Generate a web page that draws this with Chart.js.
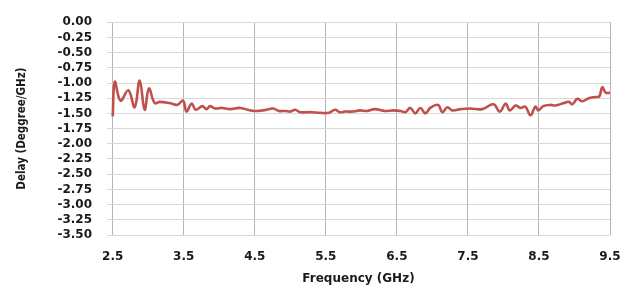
<!DOCTYPE html>
<html>
<head>
<meta charset="utf-8">
<script src="https://cdn.jsdelivr.net/npm/chart.js@4.4.0/dist/chart.umd.min.js"></script>
<style>
  html, body { margin: 0; padding: 0; background: #ffffff; }
  #wrap { width: 622px; height: 286px; }
</style>
</head>
<body>
<div id="wrap"><canvas id="chart" width="622" height="286"></canvas></div>
<script>
// values
const freq = [2.5, 2.53, 2.61, 2.72, 2.81, 2.88, 2.95, 3.01, 3.09, 3.16, 3.3, 3.41, 3.49, 3.54, 3.61, 3.67,
  3.76, 3.82, 3.87, 3.94, 4.04, 4.15, 4.29, 4.4, 4.5, 4.62, 4.76, 4.84, 4.93, 5.0, 5.07, 5.14, 5.3,
  5.42, 5.54, 5.63, 5.7, 5.77, 5.88, 5.98, 6.08, 6.19, 6.33, 6.45, 6.55, 6.62, 6.69, 6.76, 6.83, 6.9,
  6.97, 7.08, 7.14, 7.21, 7.28, 7.4, 7.53, 7.7, 7.86, 7.95, 8.03, 8.09, 8.17, 8.24, 8.31, 8.38, 8.45,
  8.49, 8.56, 8.66, 8.73, 8.85, 8.92, 8.97, 9.04, 9.11, 9.2, 9.29, 9.35, 9.39, 9.44, 9.5];
const delay = [-1.55, -0.98, -1.29, -1.12, -1.4, -0.96, -1.44, -1.09, -1.33, -1.31, -1.33, -1.36, -1.29,
  -1.47, -1.34, -1.44, -1.38, -1.43, -1.38, -1.42, -1.41, -1.43, -1.41, -1.44, -1.46, -1.45, -1.42,
  -1.46, -1.46, -1.47, -1.44, -1.48, -1.48, -1.49, -1.49, -1.44, -1.48, -1.47, -1.47, -1.45, -1.46,
  -1.43, -1.46, -1.45, -1.46, -1.48, -1.41, -1.5, -1.41, -1.5, -1.41, -1.36, -1.48, -1.4, -1.45,
  -1.43, -1.42, -1.43, -1.35, -1.47, -1.34, -1.45, -1.37, -1.41, -1.39, -1.53, -1.39, -1.45, -1.38,
  -1.36, -1.37, -1.33, -1.31, -1.35, -1.26, -1.3, -1.25, -1.23, -1.22, -1.07, -1.16, -1.16];
const xTicks = [2.5, 3.5, 4.5, 5.5, 6.5, 7.5, 8.5, 9.5];

const points = freq.map((f, i) => ({ x: f, y: delay[i] }));

new Chart(document.getElementById('chart'), {
  type: 'line',
  data: {
    datasets: [{
      data: points,
      borderColor: '#c0504d',
      borderWidth: 2.6,
      pointRadius: 0,
      tension: 0.4,
      fill: false
    }]
  },
  options: {
    responsive: false,
    animation: false,
    layout: { padding: { top: 8, right: 0, left: 0, bottom: 0 } },
    plugins: { legend: { display: false }, tooltip: { enabled: false } },
    scales: {
      x: {
        type: 'linear',
        min: 2.42,
        max: 9.5,
        afterBuildTicks: scale => {
          scale.ticks = xTicks.map(v => ({ value: v }));
        },
        afterFit: scale => {
          scale.height = 51;
          scale.paddingLeft = 0;
          scale.paddingRight = 12;
        },
        grid: { color: '#b4b4b4', lineWidth: 1, drawTicks: false },
        border: { display: false },
        ticks: {
          padding: 15,
          color: '#1a1a1a',
          maxRotation: 0,
          font: { family: 'DejaVu Sans', size: 12, weight: 'bold' },
          callback: v => v.toFixed(1)
        },
        title: {
          display: true,
          text: 'Frequency (GHz)',
          color: '#1a1a1a',
          padding: { top: 3, bottom: 0 },
          font: { family: 'DejaVu Sans', size: 12, weight: 'bold' }
        }
      },
      y: {
        min: -3.5,
        max: 0,
        afterFit: scale => { scale.width = 107; },
        grid: { color: '#d9d9d9', lineWidth: 1, drawTicks: false },
        border: { display: false },
        ticks: {
          stepSize: 0.25,
          autoSkip: false,
          padding: 15,
          color: '#1a1a1a',
          font: { family: 'DejaVu Sans', size: 12, weight: 'bold' },
          callback: v => v.toFixed(2)
        },
        title: {
          display: true,
          text: 'Delay (Deggree/GHz)',
          color: '#1a1a1a',
          padding: { top: 15, bottom: 0 },
          font: { family: 'DejaVu Sans Condensed', size: 11.5, weight: 'bold' }
        }
      }
    }
  }
});
</script>
</body>
</html>
